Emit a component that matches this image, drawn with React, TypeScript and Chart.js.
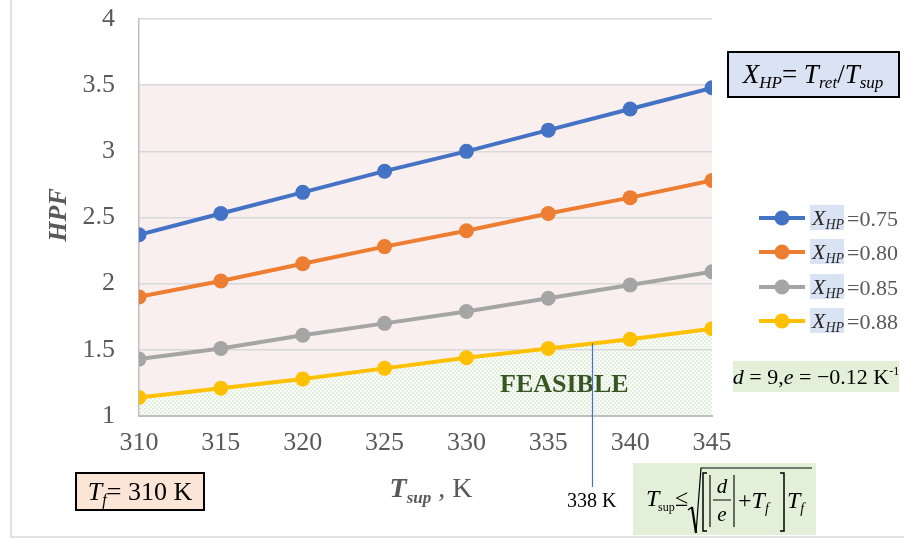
import React, { useEffect, useRef } from 'react';
import { Chart, registerables } from 'chart.js';

Chart.register(...registerables);

// ---------- data ----------
const tSup = [310, 315, 320, 325, 330, 335, 340, 345];
const hpf075 = [2.37, 2.53, 2.69, 2.85, 3.0, 3.16, 3.32, 3.48];
const hpf080 = [1.9, 2.02, 2.15, 2.28, 2.4, 2.53, 2.65, 2.78];
const hpf085 = [1.43, 1.51, 1.61, 1.7, 1.79, 1.89, 1.99, 2.09];
const hpf088 = [1.14, 1.21, 1.28, 1.36, 1.44, 1.51, 1.58, 1.66];
const xhpValues = ['0.75', '0.80', '0.85', '0.88'];
const seriesColors = ['#4472c4', '#ed7d31', '#a5a5a5', '#ffc000'];
const seriesValues = [hpf075, hpf080, hpf085, hpf088];
const yMin = 1;
const yMax = 4;
const yStep = 0.5;
const xMin = 310;
const xMax = 345;
const xStep = 5;
const shadeTop = 3.5;
const limitT = 337.7;
const limitHPF = 1.55;
const limitLabel = '338 K';

const SERIF = '"Liberation Serif", "DejaVu Serif", serif';
const f = (style: string, size: number) => `${style} ${size}px ${SERIF}`;

type Seg = { t: string; font: string; dy?: number; color?: string; gap?: number };

function richWidth(ctx: CanvasRenderingContext2D, segs: Seg[]) {
  let w = 0;
  for (const s of segs) {
    ctx.font = s.font;
    w += ctx.measureText(s.t).width + (s.gap || 0);
  }
  return w;
}

function drawRich(
  ctx: CanvasRenderingContext2D,
  segs: Seg[],
  x: number,
  y: number,
  align: 'left' | 'center' | 'right' = 'left',
  color = '#000'
) {
  const w = richWidth(ctx, segs);
  let cx = align === 'center' ? x - w / 2 : align === 'right' ? x - w : x;
  ctx.textAlign = 'left';
  ctx.textBaseline = 'alphabetic';
  for (const s of segs) {
    ctx.font = s.font;
    ctx.fillStyle = s.color || color;
    cx += s.gap || 0;
    ctx.fillText(s.t, cx, y + (s.dy || 0));
    cx += ctx.measureText(s.t).width;
  }
  return w;
}

function makeDotPattern(ctx: CanvasRenderingContext2D) {
  const c = document.createElement('canvas');
  c.width = 4;
  c.height = 4;
  const p = c.getContext('2d')!;
  p.fillStyle = '#fbfdfa';
  p.fillRect(0, 0, 4, 4);
  p.fillStyle = 'rgba(175,210,160,0.55)';
  p.fillRect(0, 0, 1.5, 1.5);
  p.fillRect(2, 2, 1.5, 1.5);
  return ctx.createPattern(c, 'repeat');
}

const regionPlugin = {
  id: 'regions',
  beforeDraw(chart: any) {
    const { ctx, scales } = chart;
    const xs = scales.x;
    const ys = scales.y;
    ctx.save();
    // frame
    ctx.strokeStyle = '#d9d9d9';
    ctx.lineWidth = 1.5;
    ctx.beginPath();
    ctx.moveTo(11, 0);
    ctx.lineTo(11, 537);
    ctx.lineTo(904, 537);
    ctx.stroke();
    // pink region
    const x0 = xs.getPixelForValue(xMin);
    const x1 = xs.getPixelForValue(xMax);
    ctx.fillStyle = '#f9efee';
    ctx.fillRect(x0, ys.getPixelForValue(shadeTop), x1 - x0, ys.getPixelForValue(yMin) - ys.getPixelForValue(shadeTop));
    // feasible region below yellow series
    ctx.fillStyle = makeDotPattern(ctx) || '#eef5ea';
    ctx.beginPath();
    ctx.moveTo(x0, ys.getPixelForValue(yMin));
    tSup.forEach((t, i) => ctx.lineTo(xs.getPixelForValue(t), ys.getPixelForValue(hpf088[i])));
    ctx.lineTo(x1, ys.getPixelForValue(yMin));
    ctx.closePath();
    ctx.fill();
    ctx.restore();
  },
  afterDraw(chart: any) {
    const { ctx, scales } = chart;
    const xs = scales.x;
    const ys = scales.y;
    ctx.save();

    // Y axis title
    ctx.save();
    ctx.translate(57, 215);
    ctx.rotate(-Math.PI / 2);
    drawRich(ctx, [{ t: 'HPF', font: f('italic bold', 26) }], 0, 9, 'center', '#595959');
    ctx.restore();

    // X axis title
    drawRich(
      ctx,
      [
        { t: 'T', font: f('italic bold', 28) },
        { t: 'sup', font: f('italic bold', 17), dy: 6 },
        { t: ' , K', font: f('normal', 28) },
      ],
      431,
      497,
      'center',
      '#595959'
    );

    // Box X_HP = T_ret/T_sup
    ctx.fillStyle = '#dae3f3';
    ctx.fillRect(728, 52, 171, 45);
    ctx.strokeStyle = '#000';
    ctx.lineWidth = 2;
    ctx.strokeRect(728, 52, 171, 45);
    drawRich(
      ctx,
      [
        { t: 'X', font: f('italic', 27) },
        { t: 'HP', font: f('italic', 17), dy: 5 },
        { t: '= ', font: f('normal', 27) },
        { t: 'T', font: f('italic', 27) },
        { t: 'ret', font: f('italic', 17), dy: 5 },
        { t: '/', font: f('normal', 27) },
        { t: 'T', font: f('italic', 27) },
        { t: 'sup', font: f('italic', 17), dy: 5 },
      ],
      813,
      83,
      'center',
      '#000'
    );

    // Legend
    const legendY = [218, 252, 287, 321];
    xhpValues.forEach((v, i) => {
      const y = legendY[i];
      ctx.strokeStyle = seriesColors[i];
      ctx.lineWidth = 4;
      ctx.beginPath();
      ctx.moveTo(759, y);
      ctx.lineTo(805, y);
      ctx.stroke();
      ctx.fillStyle = seriesColors[i];
      ctx.beginPath();
      ctx.arc(782, y, 7.5, 0, Math.PI * 2);
      ctx.fill();
      ctx.fillStyle = '#dae3f3';
      ctx.fillRect(810, y - 13, 34, 25);
      drawRich(
        ctx,
        [
          { t: 'X', font: f('italic', 22), color: '#262626' },
          { t: 'HP', font: f('italic', 14), dy: 4, color: '#262626' },
        ],
        812,
        y + 7,
        'left'
      );
      drawRich(ctx, [{ t: '=' + v, font: f('normal', 22) }], 847, y + 8, 'left', '#595959');
    });

    // d, e box
    ctx.fillStyle = '#e2f0d9';
    ctx.fillRect(733, 361, 166, 31);
    drawRich(
      ctx,
      [
        { t: 'd', font: f('italic', 22) },
        { t: ' = 9,', font: f('normal', 22) },
        { t: 'e', font: f('italic', 22) },
        { t: ' = \u22120.12 K', font: f('normal', 22) },
        { t: '-1', font: f('normal', 12), dy: -9 },
      ],
      816,
      384,
      'center',
      '#000'
    );

    // FEASIBLE
    drawRich(ctx, [{ t: 'FEASIBLE', font: f('bold', 26) }], 500, 392, 'left', '#375623');

    // limit line
    const lx = xs.getPixelForValue(limitT);
    ctx.strokeStyle = '#4472c4';
    ctx.lineWidth = 1.2;
    ctx.beginPath();
    ctx.moveTo(lx, ys.getPixelForValue(limitHPF));
    ctx.lineTo(lx, 487);
    ctx.stroke();
    drawRich(ctx, [{ t: limitLabel, font: f('normal', 20) }], 567, 507, 'left', '#000');

    // Formula box
    ctx.fillStyle = '#e2f0d9';
    ctx.fillRect(633, 463, 183, 72);
    drawRich(ctx, [{ t: 'T', font: f('italic', 24) }], 646, 506, 'left', '#000');
    drawRich(ctx, [{ t: 'sup', font: f('normal', 12) }], 658, 511, 'left', '#000');
    drawRich(ctx, [{ t: '\u2264', font: f('normal', 24) }], 675, 506, 'left', '#000');
    ctx.strokeStyle = '#000';
    // radical
    ctx.lineWidth = 1.3;
    ctx.beginPath();
    ctx.moveTo(688, 510);
    ctx.lineTo(692, 507);
    ctx.stroke();
    ctx.lineWidth = 2.2;
    ctx.beginPath();
    ctx.moveTo(692, 507);
    ctx.lineTo(696, 533);
    ctx.stroke();
    ctx.lineWidth = 1.2;
    ctx.beginPath();
    ctx.moveTo(696, 533);
    ctx.lineTo(701, 468);
    ctx.lineTo(812, 468);
    ctx.stroke();
    // brackets [ ]
    ctx.lineWidth = 1.5;
    ctx.beginPath();
    ctx.moveTo(707, 473);
    ctx.lineTo(703, 473);
    ctx.lineTo(703, 531);
    ctx.lineTo(707, 531);
    ctx.moveTo(780, 473);
    ctx.lineTo(784, 473);
    ctx.lineTo(784, 531);
    ctx.lineTo(780, 531);
    ctx.stroke();
    // abs bars
    ctx.lineWidth = 1.1;
    ctx.beginPath();
    ctx.moveTo(710, 475);
    ctx.lineTo(710, 527);
    ctx.moveTo(734, 475);
    ctx.lineTo(734, 527);
    // fraction bar
    ctx.moveTo(713, 500);
    ctx.lineTo(731, 500);
    ctx.stroke();
    drawRich(ctx, [{ t: 'd', font: f('italic', 21) }], 722, 493, 'center', '#000');
    drawRich(ctx, [{ t: 'e', font: f('italic', 21) }], 722, 521, 'center', '#000');
    drawRich(
      ctx,
      [
        { t: '+', font: f('normal', 24) },
        { t: 'T', font: f('italic', 24) },
        { t: 'f', font: f('italic', 14), dy: 5 },
      ],
      738,
      508,
      'left',
      '#000'
    );
    drawRich(
      ctx,
      [
        { t: 'T', font: f('italic', 24) },
        { t: 'f', font: f('italic', 14), dy: 5 },
      ],
      787,
      508,
      'left',
      '#000'
    );

    // T_f box
    ctx.fillStyle = '#fbe5d6';
    ctx.fillRect(76, 473, 128, 37);
    ctx.strokeStyle = '#000';
    ctx.lineWidth = 2;
    ctx.strokeRect(76, 473, 128, 37);
    drawRich(
      ctx,
      [
        { t: 'T', font: f('italic', 26) },
        { t: 'f', font: f('italic', 16), dy: 5 },
        { t: '= 310 K', font: f('normal', 26) },
      ],
      140,
      500,
      'center',
      '#000'
    );

    ctx.restore();
  },
};

export default function App() {
  const ref = useRef<HTMLCanvasElement>(null);
  useEffect(() => {
    if (!ref.current) return;
    const datasets = seriesValues.map((vals, i) => ({
      label: 'X_HP =' + xhpValues[i],
      data: tSup.map((t, j) => ({ x: t, y: vals[j] })),
      borderColor: seriesColors[i],
      backgroundColor: seriesColors[i],
      pointBackgroundColor: seriesColors[i],
      pointBorderWidth: 0,
      pointRadius: 7.5,
      borderWidth: 4,
      fill: false,
      tension: 0,
    }));
    const chart = new Chart(ref.current, {
      type: 'line',
      data: { datasets },
      options: {
        responsive: false,
        animation: false,
        layout: { padding: { left: 0, top: 19, right: 192, bottom: 63 } },
        plugins: { legend: { display: false }, tooltip: { enabled: false } },
        scales: {
          x: {
            type: 'linear',
            min: xMin,
            max: xMax,
            ticks: {
              stepSize: xStep,
              padding: 12,
              color: '#595959',
              font: { family: SERIF, size: 26 },
            },
            grid: { display: false, drawTicks: false },
            border: { display: true, color: '#bfbfbf', width: 2 },
            afterFit: (s: any) => {
              s.height = 60;
              s.paddingLeft = 0;
              s.paddingRight = 0;
            },
          },
          y: {
            min: yMin,
            max: yMax,
            ticks: {
              stepSize: yStep,
              padding: 24,
              color: '#595959',
              font: { family: SERIF, size: 26 },
              callback: (v: any) => String(v),
            },
            grid: { color: '#d9d9d9', lineWidth: 1.5, drawTicks: false },
            border: { display: true, color: '#bfbfbf', width: 1.5 },
            afterFit: (s: any) => {
              s.width = 139;
              s.paddingTop = 0;
              s.paddingBottom = 0;
            },
          },
        },
      },
      plugins: [regionPlugin],
    });
    return () => chart.destroy();
  }, []);
  return (
    <div style={{ position: 'fixed', left: 0, top: 0, width: 904, height: 539, background: '#fff' }}>
      <canvas ref={ref} width={904} height={539} style={{ width: 904, height: 539 }} />
    </div>
  );
}
